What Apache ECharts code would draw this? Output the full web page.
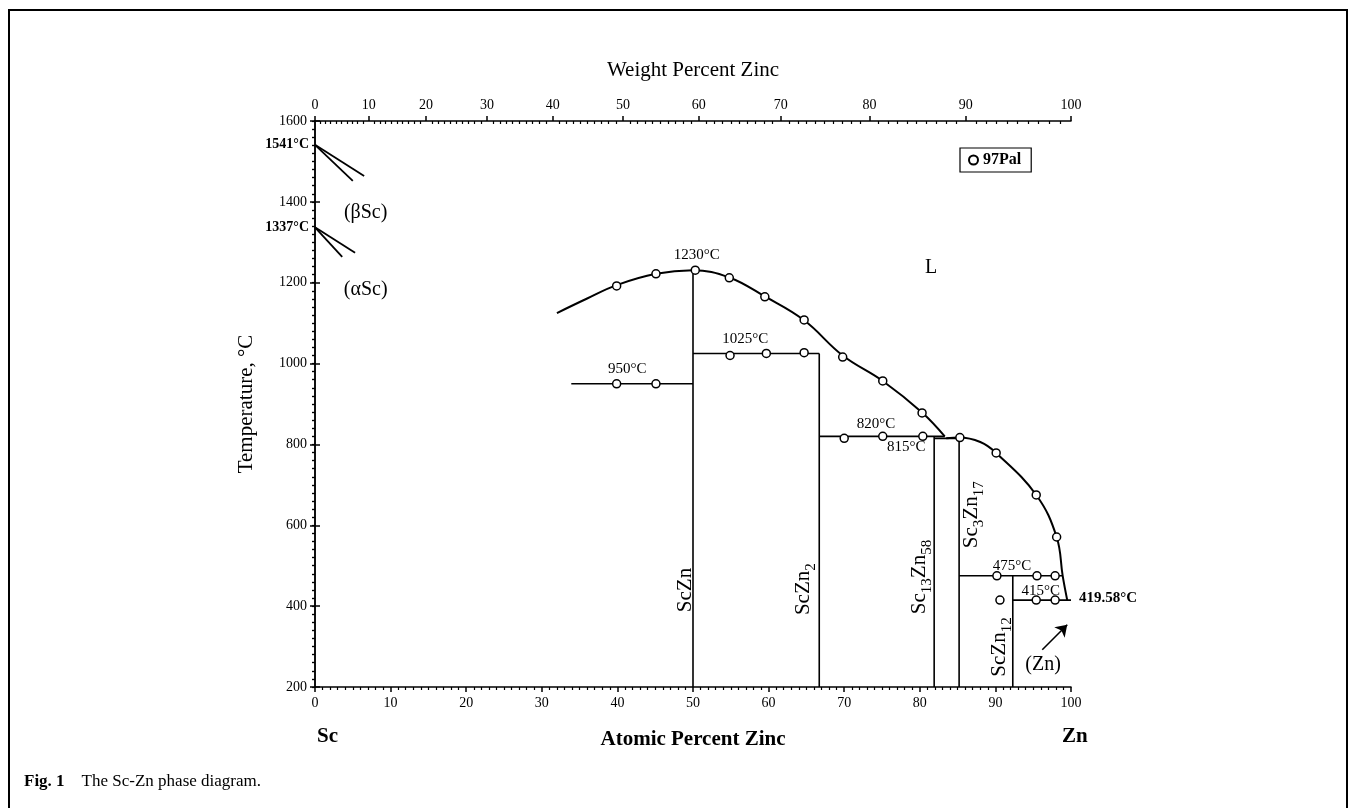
<!DOCTYPE html>
<html>
<head>
<meta charset="utf-8">
<script src="https://cdn.jsdelivr.net/npm/echarts@6/dist/echarts.min.js"></script>
<style>
  html, body { margin: 0; padding: 0; background: #fff; }
  #main { width: 1357px; height: 808px; }
</style>
</head>
<body>
<div id="main"></div>
<script>
// atomic masses used to place the weight-percent scale on top
const M_SC = 44.956, M_ZN = 65.38;

// tick labels
const atTicks = [0, 10, 20, 30, 40, 50, 60, 70, 80, 90, 100];
const wtTicks = [0, 10, 20, 30, 40, 50, 60, 70, 80, 90, 100];
const tempTicks = [200, 400, 600, 800, 1000, 1200, 1400, 1600];

// liquidus (at.% Zn, °C)
const liquidusLeft = [[32, 1125], [36, 1161], [39.9, 1194], [45.1, 1222], [50, 1231], [54.8, 1213],
  [59.5, 1166], [64.7, 1107], [69.8, 1020], [75.1, 957], [80.3, 879], [83.3, 820]];
const liquidusRight = [[83.5, 815], [85.2, 817], [88, 806], [90.1, 779], [95.4, 675],
  [98.1, 571], [98.9, 475], [99.5, 415]];

// Sc side transformation lines
const scLines = [
  [[0, 1541], [5.0, 1452]],
  [[0, 1541], [6.5, 1464]],
  [[0, 1337], [3.6, 1264]],
  [[0, 1337], [5.3, 1274]]
];

// invariant lines and compound lines
const invariantLines = [
  [[33.9, 950], [50, 950]],
  [[50, 1230], [50, 200]],
  [[50, 1025], [66.7, 1025]],
  [[66.7, 1025], [66.7, 200]],
  [[66.7, 820], [83.3, 820]],
  [[81.9, 820], [81.9, 200]],
  [[81.9, 815], [85.2, 815]],
  [[85.2, 817], [85.2, 200]],
  [[85.2, 475], [98.9, 475]],
  [[92.3, 475], [92.3, 200]],
  [[92.3, 415], [100, 415]]
];

// 97Pal experimental points
const pal97 = [
  [39.9, 1192], [45.1, 1222], [50.3, 1231], [54.8, 1212], [59.5, 1165], [64.7, 1108],
  [69.8, 1016], [75.1, 957], [80.3, 878], [85.3, 817], [90.1, 779], [95.4, 675], [98.1, 571],
  [39.9, 950], [45.1, 950],
  [54.9, 1020], [59.7, 1025], [64.7, 1027],
  [70, 815], [75.1, 820], [80.4, 820],
  [90.2, 475], [95.5, 475], [97.9, 475],
  [90.6, 415], [95.4, 415], [97.9, 415]
];

// temperature annotations
const tempLabels = [
  { name: '1230°C', value: [50.5, 1269] },
  { name: '1025°C', value: [56.9, 1061] },
  { name: '950°C', value: [41.3, 987] },
  { name: '820°C', value: [74.2, 850] },
  { name: '815°C', value: [78.2, 794] },
  { name: '475°C', value: [92.2, 499] },
  { name: '415°C', value: [96.0, 437] }
];
const meltLeft = [
  { name: '1541°C', value: [0, 1541] },
  { name: '1337°C', value: [0, 1337] }
];
const meltRight = [{ name: '419.58°C', value: [100, 419.58] }];

// compounds (rotated)
const compounds = [
  { name: '{n|ScZn}', value: [49.0, 440] },
  { name: '{n|ScZn}{s|2}', value: [64.6, 442] },
  { name: '{n|Sc}{s|13}{n|Zn}{s|58}', value: [80.0, 472] },
  { name: '{n|Sc}{s|3}{n|Zn}{s|17}', value: [86.9, 626] },
  { name: '{n|ScZn}{s|12}', value: [90.6, 299] }
];

// phase fields
const phases = [
  { name: 'L', value: [81.5, 1236] },
  { name: '(βSc)', value: [6.7, 1372] },
  { name: '(αSc)', value: [6.7, 1182] },
  { name: '(Zn)', value: [96.3, 254] }
];
const znArrow = [[96.2, 292], [99.5, 354]];

function wtToAt(w) {
  if (w >= 100) return 100;
  const a = w / M_ZN, b = (100 - w) / M_SC;
  return 100 * a / (a + b);
}
function atToWt(x) {
  return 100 * x * M_ZN / (x * M_ZN + (100 - x) * M_SC);
}
const wtMajor = wtTicks.map(wtToAt);
const wtMinor = [];
for (let w = 1; w < 100; w++) if (w % 10 !== 0) wtMinor.push(wtToAt(w));

const FONT = 'Liberation Serif';
const black = '#000';

let myChart = echarts.init(document.getElementById('main'));

const lineSeries = (pts, w, smooth) => ({
  type: 'line',
  data: pts,
  showSymbol: false,
  symbol: 'none',
  silent: true,
  smooth: smooth || false,
  lineStyle: { color: black, width: w },
  z: 3
});

// scatter used only to carry text labels
const textSeries = (data, label) => ({
  type: 'scatter', data: data, symbolSize: 0, silent: true, clip: false,
  itemStyle: { opacity: 1 },
  label: Object.assign({ show: true, formatter: p => p.name, color: black, fontFamily: FONT }, label)
});

myChart.setOption({
  animation: false,
  backgroundColor: '#fff',
  grid: { left: 315, right: 286, top: 121, bottom: 121, containLabel: false },
  legend: {
    data: [{ name: '97Pal', icon: 'circle' }],
    left: 960, top: 148,
    orient: 'horizontal',
    borderColor: black, borderWidth: 1.2, borderRadius: 0,
    padding: [4, 10, 4, 8],
    itemWidth: 9, itemHeight: 9, itemGap: 4,
    textStyle: { fontFamily: FONT, fontSize: 16, fontWeight: 'bold', color: black }
  },
  xAxis: [
    {
      type: 'value', position: 'bottom', min: 0, max: 100, interval: 10,
      name: 'Atomic Percent Zinc', nameLocation: 'middle', nameGap: 42,
      nameTextStyle: { fontFamily: FONT, fontSize: 21, fontWeight: 'bold', color: black },
      axisLine: { lineStyle: { color: black, width: 1.5 } },
      axisTick: { length: 5, lineStyle: { color: black, width: 1.5 } },
      minorTick: { show: true, splitNumber: 10, length: 3, lineStyle: { color: black, width: 1.2 } },
      splitLine: { show: false },
      axisLabel: { fontFamily: FONT, fontSize: 14, color: black, margin: 9 }
    },
    {
      type: 'value', position: 'top', min: 0, max: 100,
      name: 'Weight Percent Zinc', nameLocation: 'middle', nameGap: 40,
      nameTextStyle: { fontFamily: FONT, fontSize: 21, color: black },
      axisLine: { lineStyle: { color: black, width: 1.5 } },
      axisTick: { length: 5, customValues: wtMajor, lineStyle: { color: black, width: 1.5 } },
      splitLine: { show: false },
      axisLabel: {
        fontFamily: FONT, fontSize: 14, color: black, margin: 9,
        customValues: wtMajor,
        formatter: v => String(Math.round(atToWt(v)))
      }
    },
    {
      type: 'value', position: 'top', min: 0, max: 100,
      axisLine: { show: false },
      axisTick: { inside: true, length: 3, customValues: wtMinor, lineStyle: { color: black, width: 1.2 } },
      axisLabel: { show: false },
      splitLine: { show: false }
    }
  ],
  yAxis: [
    {
      type: 'value', position: 'left', min: 200, max: 1600, interval: 200,
      name: 'Temperature, °C', nameLocation: 'middle', nameGap: 58, nameRotate: 90,
      nameTextStyle: { fontFamily: FONT, fontSize: 21, color: black },
      axisLine: { lineStyle: { color: black, width: 1.5 } },
      axisTick: { length: 5, lineStyle: { color: black, width: 1.5 } },
      minorTick: { show: true, splitNumber: 10, length: 3, lineStyle: { color: black, width: 1.2 } },
      splitLine: { show: false },
      axisLabel: { fontFamily: FONT, fontSize: 14, color: black, margin: 8, formatter: v => String(v) }
    },
    {
      type: 'value', position: 'right', min: 200, max: 1600, interval: 200,
      axisLine: { lineStyle: { color: black, width: 1.5 } },
      axisTick: { length: 5, lineStyle: { color: black, width: 1.5 } },
      axisLabel: { show: false },
      splitLine: { show: false }
    },
    {
      type: 'value', position: 'right', min: 200, max: 1600, interval: 20,
      axisLine: { show: false },
      axisTick: { inside: true, length: 3, lineStyle: { color: black, width: 1.2 } },
      axisLabel: { show: false },
      splitLine: { show: false }
    }
  ],
  graphic: [
    { type: 'rect', shape: { x: 9, y: 10, width: 1338, height: 830 }, style: { fill: 'none', stroke: black, lineWidth: 2 }, silent: true },
    { type: 'text', left: 317, top: 726, style: { text: 'Sc', font: 'bold 21px "Liberation Serif"', fill: black } },
    { type: 'text', left: 1062, top: 726, style: { text: 'Zn', font: 'bold 21px "Liberation Serif"', fill: black } },
    { type: 'text', left: 24, top: 773, style: { text: '{b|Fig. 1}    The Sc-Zn phase diagram.', font: '17px "Liberation Serif"', fill: black,
        rich: { b: { fontFamily: FONT, fontSize: 17, fontWeight: 'bold' } } } }
  ],
  series: [
    lineSeries(liquidusLeft, 2, 0.4),
    lineSeries(liquidusRight, 2, 0.4),
    ...scLines.map(p => lineSeries(p, 1.8)),
    ...invariantLines.map(p => lineSeries(p, 1.6)),
    {
      name: '97Pal',
      type: 'scatter',
      data: pal97,
      symbol: 'circle',
      symbolSize: 8,
      itemStyle: { color: '#fff', borderColor: black, borderWidth: 1.5, opacity: 1 },
      z: 5
    },
    textSeries(tempLabels, { position: 'inside', fontSize: 15 }),
    textSeries(meltLeft, { position: 'left', distance: 6, fontSize: 14, fontWeight: 'bold' }),
    textSeries(meltRight, { position: 'right', distance: 8, fontSize: 15, fontWeight: 'bold' }),
    textSeries(compounds, {
      position: 'inside', rotate: 90,
      rich: {
        n: { fontFamily: FONT, fontSize: 21, lineHeight: 30, verticalAlign: 'middle', color: black },
        s: { fontFamily: FONT, fontSize: 15, lineHeight: 30, verticalAlign: 'bottom', color: black }
      }
    }),
    textSeries(phases, { position: 'inside', fontSize: 20 }),
    {
      type: 'lines', coordinateSystem: 'cartesian2d', silent: true,
      symbol: ['none', 'arrow'], symbolSize: 11,
      lineStyle: { color: black, width: 1.6, opacity: 1 },
      data: [{ coords: znArrow }],
      z: 4
    }
  ]
});
</script>
</body>
</html>
